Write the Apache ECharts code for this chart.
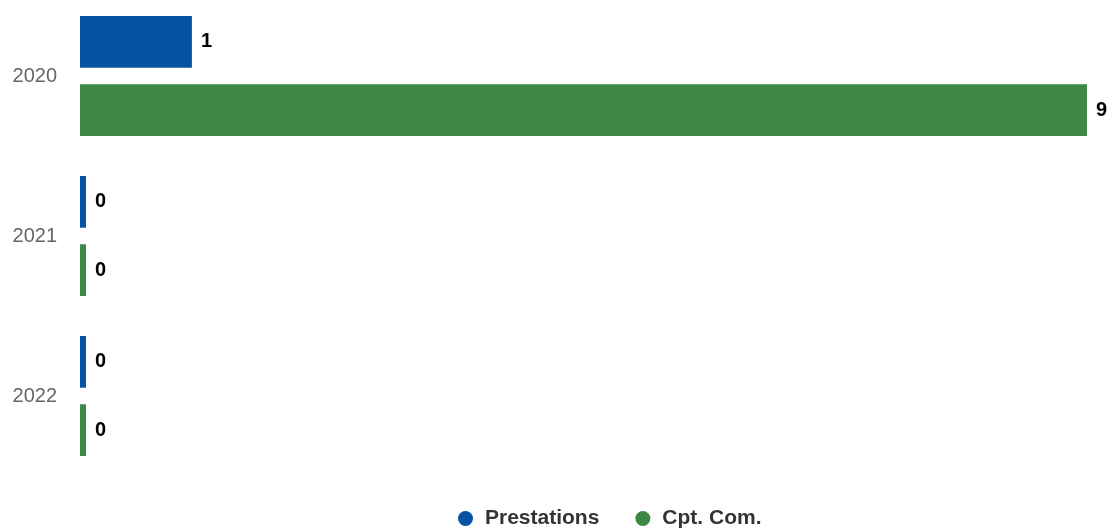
<!DOCTYPE html>
<html>
<head>
<meta charset="utf-8">
<script src="https://cdn.jsdelivr.net/npm/echarts@6/dist/echarts.min.js"></script>
<style>html,body{margin:0;padding:0;background:#fff;}#c{width:1112px;height:529px;}</style>
</head>
<body>
<div id="c"></div>
<script>
const categories = ['2020', '2021', '2022'];
const seriesNames = ['Prestations', 'Cpt. Com.'];
const prestations = [1, 0, 0];
const cptCom = [9, 0, 0];
const colors = ['#0652a3', '#3d8843'];

const chart = echarts.init(document.getElementById('c'), null, {renderer: 'canvas'});
const labelCfg = {show: true, position: 'right', distance: 9, color: '#000', fontWeight: 'bold', fontSize: 20, fontFamily: 'Liberation Sans, Arial, sans-serif'};
chart.setOption({
  animation: false,
  color: colors,
  grid: {left: 80, right: 25, top: -4, height: 480, containLabel: false, outerBoundsMode: 'none'},
  legend: {
    top: 503, left: 453, icon: 'circle', itemWidth: 29, itemHeight: 15, itemGap: 36,
    textStyle: {fontSize: 21, fontWeight: 'bold', color: '#333', fontFamily: 'Liberation Sans, Arial, sans-serif'},
    data: seriesNames
  },
  xAxis: {type: 'value', min: 0, max: 9, show: false},
  yAxis: {
    type: 'category', data: categories, inverse: true,
    axisLine: {show: false}, axisTick: {show: false},
    axisLabel: {color: '#666', fontSize: 20, margin: 23, fontFamily: 'Liberation Sans, Arial, sans-serif'}
  },
  series: [
    {name: seriesNames[0], type: 'bar', data: prestations, barCategoryGap: '25%', barGap: '32%', barMinHeight: 6, label: labelCfg},
    {name: seriesNames[1], type: 'bar', data: cptCom, barCategoryGap: '25%', barGap: '32%', barMinHeight: 6, label: labelCfg}
  ]
});
</script>
</body>
</html>
